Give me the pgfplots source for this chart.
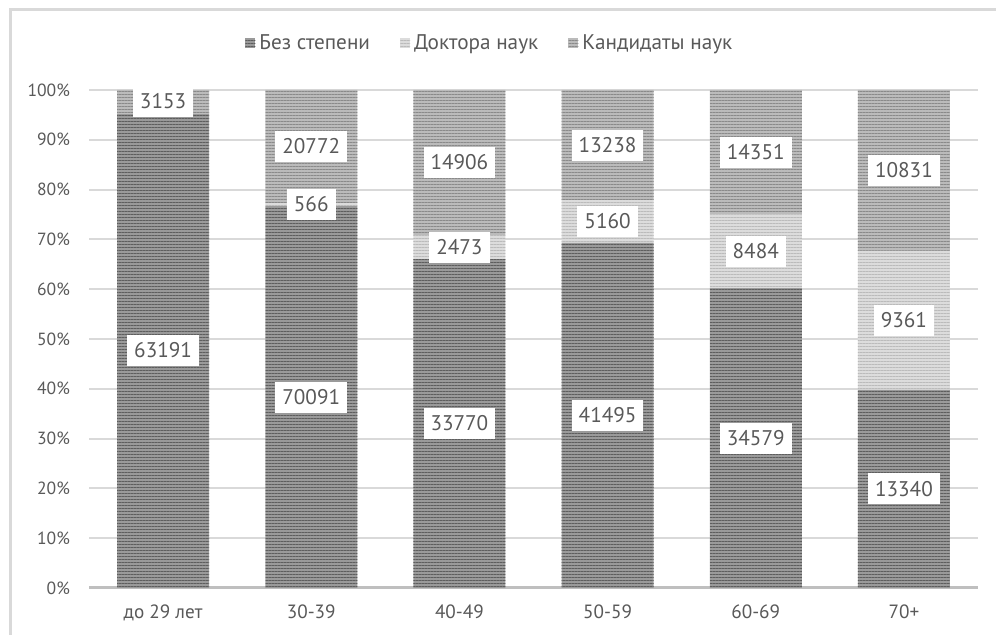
\documentclass[border=0pt]{standalone}
\usepackage{fontspec}
\setmainfont{PT Sans}
\usepackage{pgfplots}
\pgfplotsset{compat=1.18}
\usepackage{pgfplotstable}
\usetikzlibrary{patterns,patterns.meta}
\definecolor{txt}{HTML}{595959}
\definecolor{gridc}{HTML}{D9D9D9}
\definecolor{axc}{HTML}{BFBFBF}
\definecolor{cB}{HTML}{9A9A9A}
\definecolor{cBp}{HTML}{5E5E5E}
\definecolor{cD}{HTML}{DCDCDC}
\definecolor{cDp}{HTML}{BBBBBB}
\definecolor{cK}{HTML}{BBBBBB}
\definecolor{cKp}{HTML}{8A8A8A}
\setlength{\fboxsep}{0pt}
% percentages (p*) and counts (c*) per age group
\pgfplotstableread{
x pB cB pD cD pK cK
0 95.2475 63191 0 0 4.7525 3153
1 76.662 70091 0.619 566 22.719 20772
2 66.023 33770 4.835 2473 29.142 14906
3 69.282 41495 8.615 5160 22.103 13238
4 60.228 34579 14.777 8484 24.995 14351
5 39.783 13340 27.917 9361 32.300 10831
}\data
\begin{document}
\begin{tikzpicture}
\useasboundingbox (0,0) rectangle (498pt,317.5pt);
\fill[white] (0,0) rectangle (498pt,317.5pt);
\draw[gridc, line width=1.5pt] (5pt,0) -- (5pt,312.5pt) -- (498pt,312.5pt);
\begin{axis}[
  at={(44.5pt,23.5pt)}, anchor=south west,
  scale only axis, width=444.5pt, height=249pt,
  ybar stacked, bar width=46pt,
  xmin=-0.5, xmax=5.5, ymin=0, ymax=100,
  xtick={0,...,5},
  xticklabels={до 29 лет,30-39,40-49,50-59,60-69,70+},
  ytick={0,10,...,100},
  yticklabel={\pgfmathprintnumber{\tick}\%},
  axis line style={draw=none},
  major tick length=0pt,
  ymajorgrids,
  grid style={draw=gridc, line width=1pt},
  extra y ticks={0}, extra y tick labels={},
  extra y tick style={grid style={draw=axc, line width=1.5pt}},
  yticklabel style={font=\fontsize{8.8}{10}\selectfont, text=txt, xshift=-6pt},
  xticklabel style={font=\fontsize{9.6}{11}\selectfont, text=txt, yshift=-5pt},
  point meta=explicit,
  nodes near coords={\pgfmathfloatifflags{\pgfplotspointmeta}{0}{}{\colorbox{white}{\rule[-4.2pt]{0pt}{15.5pt}\hspace{3.5pt}\pgfmathprintnumber{\pgfplotspointmeta}\hspace{3.5pt}}}},
  every node near coord/.append style={anchor=center, inner sep=0pt,
     font=\fontsize{10.6}{12}\selectfont, text=txt},
  /pgf/number format/1000 sep={},
  /pgf/number format/assume math mode=true,
  legend style={at={(0.452,1.094)}, anchor=center, draw=none, fill=none,
     legend columns=3, font=\fontsize{10.6}{12}\selectfont,
     nodes={text=txt},
     /tikz/every even column/.append style={column sep=13pt}},
  legend image code/.code={\fill[#1] (0pt,-2.5pt) rectangle (5pt,2.5pt);},
]
\addplot[fill=cB, draw=none, postaction={pattern={Lines[angle=0,distance=1.5pt,line width=0.5pt]}, pattern color=cBp}]
  table[x=x, y=pB, meta=cB] {\data};
\addplot[fill=cD, draw=none, postaction={pattern={Lines[angle=0,distance=1.5pt,line width=0.5pt]}, pattern color=cDp}]
  table[x=x, y=pD, meta=cD] {\data};
\addplot[fill=cK, draw=none, postaction={pattern={Lines[angle=0,distance=1.5pt,line width=0.5pt]}, pattern color=cKp}]
  table[x=x, y=pK, meta=cK] {\data};
\legend{Без степени, Доктора наук, Кандидаты наук}
\end{axis}
\end{tikzpicture}
\end{document}
